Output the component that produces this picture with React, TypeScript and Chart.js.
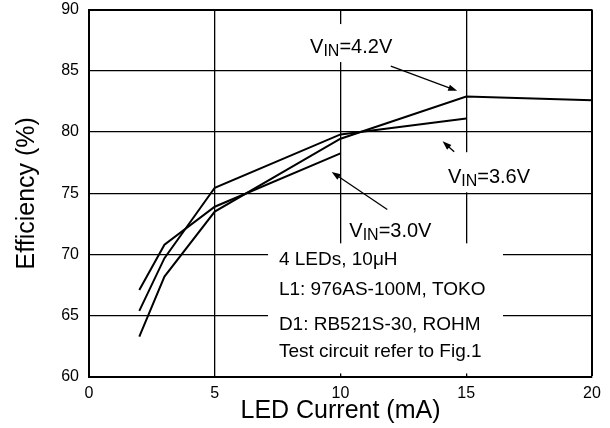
import React, { useEffect, useRef } from 'react';
import { Chart, registerables } from 'chart.js';

Chart.register(...registerables);

const FONT = '"Liberation Sans", Arial, Helvetica, sans-serif';

// ---- data ----
const currents = [2, 3, 5, 10, 15, 20];
const vin30 = [67.1, 70.8, 73.9, 78.25];
const vin36 = [65.4, 69.7, 75.45, 79.8, 81.1];
const vin42 = [63.3, 68.2, 73.5, 79.45, 82.9, 82.6];
const xTicks = [0, 5, 10, 15, 20];
const yTicks = [60, 65, 70, 75, 80, 85, 90];
const seriesNames = ['3.0V', '3.6V', '4.2V'];
const notes = ['4 LEDs, 10\u03bcH', 'L1: 976AS-100M, TOKO', 'D1: RB521S-30, ROHM', 'Test circuit refer to Fig.1'];

// ---- annotation layout (in data units) ----
const vinLabels = [
  { name: '4.2V', x: 8.79, y: 86.44, tail: [12.0, 85.38], head: [14.64, 83.36] },
  { name: '3.6V', x: 14.27, y: 75.82, tail: [14.52, 78.38], head: [14.06, 79.25] },
  { name: '3.0V', x: 10.35, y: 71.4, tail: [11.86, 73.67], head: [9.65, 76.74] },
];
const whiteBoxes = [
  [8.59, 12.17, 88.81, 85.71],
  [14.12, 17.69, 78.35, 75.08],
  [7.12, 16.46, 70.91, 60.29],
];
const noteX = 7.55;
const noteY = [69.11, 66.66, 63.8, 61.6];

const toPts = (ys: number[]) => ys.map((y, i) => ({ x: currents[i], y }));

function drawArrow(ctx: CanvasRenderingContext2D, x1: number, y1: number, x2: number, y2: number) {
  const a = Math.atan2(y2 - y1, x2 - x1);
  const L = 9, W = 3.2;
  const c = Math.cos(a), s = Math.sin(a);
  ctx.beginPath();
  ctx.moveTo(x1, y1);
  ctx.lineTo(x2 - L * 0.7 * c, y2 - L * 0.7 * s);
  ctx.stroke();
  ctx.beginPath();
  ctx.moveTo(x2, y2);
  ctx.lineTo(x2 - L * c + W * s, y2 - L * s - W * c);
  ctx.lineTo(x2 - L * c - W * s, y2 - L * s + W * c);
  ctx.closePath();
  ctx.fill();
}

const annotPlugin = {
  id: 'annot',
  beforeDatasetsDraw(chart: any) {
    const { ctx } = chart;
    const sx = (v: number) => chart.scales.x.getPixelForValue(v);
    const sy = (v: number) => chart.scales.y.getPixelForValue(v);
    ctx.save();
    ctx.fillStyle = '#fff';
    for (const [x0, x1, y0, y1] of whiteBoxes) {
      ctx.fillRect(sx(x0), sy(y0), sx(x1) - sx(x0), sy(y1) - sy(y0));
    }
    ctx.restore();
  },
  afterDatasetsDraw(chart: any) {
    const { ctx } = chart;
    const sx = (v: number) => chart.scales.x.getPixelForValue(v);
    const sy = (v: number) => chart.scales.y.getPixelForValue(v);
    ctx.save();
    ctx.fillStyle = '#000';
    ctx.strokeStyle = '#000';
    ctx.lineWidth = 1.3;
    ctx.textBaseline = 'alphabetic';
    ctx.textAlign = 'left';
    for (const lb of vinLabels) {
      let x = sx(lb.x);
      const y = sy(lb.y);
      ctx.font = `20px ${FONT}`;
      ctx.fillText('V', x, y);
      x += ctx.measureText('V').width;
      ctx.font = `16px ${FONT}`;
      ctx.fillText('IN', x, y + 3);
      x += ctx.measureText('IN').width;
      ctx.font = `20px ${FONT}`;
      ctx.fillText('=' + lb.name, x, y);
      drawArrow(ctx, sx(lb.tail[0]), sy(lb.tail[1]), sx(lb.head[0]), sy(lb.head[1]));
    }
    ctx.font = `19px ${FONT}`;
    notes.forEach((t, i) => ctx.fillText(t, sx(noteX), sy(noteY[i])));
    ctx.restore();
  },
};

export default function App() {
  const ref = useRef<HTMLCanvasElement>(null);
  useEffect(() => {
    const lineDs = (label: string, ys: number[]) => ({
      label,
      data: toPts(ys),
      borderColor: '#000',
      backgroundColor: '#000',
      borderWidth: 2,
      pointRadius: 0,
      tension: 0,
      fill: false,
    });
    const chart = new Chart(ref.current!, {
      type: 'line',
      data: {
        datasets: [
          lineDs(seriesNames[0], vin30),
          lineDs(seriesNames[1], vin36),
          lineDs(seriesNames[2], vin42),
        ],
      },
      options: {
        responsive: false,
        animation: false,
        layout: { padding: { left: 0, right: 18, top: 9.5, bottom: 0 } },
        plugins: { legend: { display: false }, tooltip: { enabled: false } },
        scales: {
          x: {
            type: 'linear',
            min: 0,
            max: 20,
            afterBuildTicks: (s: any) => { s.ticks = xTicks.map((v) => ({ value: v })); },
            afterFit: (s: any) => { s.height = 51; s.paddingLeft = 0; s.paddingRight = 0; },
            ticks: { color: '#000', font: { size: 16, family: FONT }, padding: 7, maxRotation: 0, autoSkip: false },
            grid: { color: '#000', lineWidth: (c: any) => (c.tick && c.tick.value === 20 ? 2 : 1.3), drawTicks: false },
            border: { color: '#000', width: 2 },
            title: { display: true, text: 'LED Current (mA)', color: '#000', font: { size: 25, family: FONT }, padding: { top: 0, bottom: 2 } },
          },
          y: {
            type: 'linear',
            min: 60,
            max: 90,
            afterBuildTicks: (s: any) => { s.ticks = yTicks.map((v) => ({ value: v })); },
            afterFit: (s: any) => { s.width = 89; s.paddingTop = 0; s.paddingBottom = 0; },
            ticks: { color: '#000', font: { size: 16, family: FONT }, padding: 10, autoSkip: false },
            grid: { color: '#000', lineWidth: (c: any) => (c.tick && c.tick.value === 90 ? 2 : 1.3), drawTicks: false },
            border: { color: '#000', width: 2 },
            title: { display: true, text: 'Efficiency (%)', color: '#000', font: { size: 25, family: FONT }, padding: { top: 12, bottom: 0 } },
          },
        },
      },
      plugins: [annotPlugin],
    } as any);
    return () => chart.destroy();
  }, []);
  return (
    <div style={{ position: 'absolute', left: 0, top: 0, width: 610, height: 428, background: '#fff' }}>
      <canvas ref={ref} width={610} height={428} style={{ width: 610, height: 428, display: 'block' }} />
    </div>
  );
}
